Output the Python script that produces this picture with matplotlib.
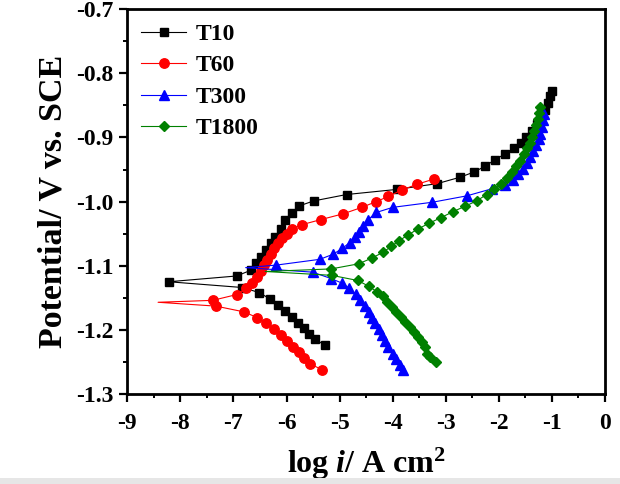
import matplotlib
matplotlib.use("Agg")
import matplotlib.pyplot as plt
from matplotlib.patches import Rectangle

plt.rcParams["font.family"] = ["Liberation Serif", "DejaVu Serif"]
plt.rcParams["font.weight"] = "bold"
plt.rcParams["axes.unicode_minus"] = False
plt.rcParams["mathtext.fontset"] = "custom"
plt.rcParams["mathtext.rm"] = "Liberation Serif:bold"
plt.rcParams["mathtext.it"] = "Liberation Serif:italic:bold"

# each curve: cathodic branch (outer end -> Ecorr), Ecorr tip, anodic branch (Ecorr -> outer end)
t10_cat_x = [-5.27, -5.46, -5.57, -5.67, -5.78, -5.90, -6.02, -6.16, -6.31, -6.51, -6.83]
t10_cat_E = [-1.224, -1.215, -1.207, -1.197, -1.189, -1.180, -1.170, -1.161, -1.152, -1.142, -1.134]
t10_tip = (-8.22, -1.125)
t10_an_x = [-6.94, -6.67, -6.58, -6.49, -6.39, -6.30, -6.21, -6.11, -6.02, -5.90, -5.77, -5.49,
            -4.87, -3.92, -3.16, -2.73, -2.47, -2.26, -2.08, -1.89, -1.72, -1.59, -1.49, -1.38,
            -1.29, -1.21, -1.13, -1.07, -1.04, -0.99]
t10_an_E = [-1.116, -1.107, -1.096, -1.086, -1.076, -1.065, -1.055, -1.042, -1.029, -1.018, -1.007, -0.999,
            -0.989, -0.981, -0.972, -0.962, -0.954, -0.945, -0.935, -0.926, -0.917, -0.908, -0.899, -0.890,
            -0.879, -0.869, -0.857, -0.846, -0.835, -0.827]

t60_cat_x = [-5.34, -5.55, -5.67, -5.77, -5.88, -5.99, -6.11, -6.24, -6.38, -6.55, -6.80, -7.33]
t60_cat_E = [-1.262, -1.253, -1.244, -1.235, -1.226, -1.217, -1.208, -1.199, -1.190, -1.181, -1.172, -1.163]
t60_tip = (-8.42, -1.157)
t60_an_x = [-7.39, -6.94, -6.76, -6.65, -6.55, -6.49, -6.43, -6.36, -6.30, -6.24, -6.16, -6.08,
            -5.99, -5.90, -5.71, -5.35, -4.93, -4.58, -4.31, -4.08, -3.83, -3.54, -3.23]
t60_an_E = [-1.154, -1.145, -1.135, -1.127, -1.117, -1.108, -1.099, -1.091, -1.082, -1.073, -1.065, -1.057,
            -1.050, -1.043, -1.036, -1.028, -1.019, -1.009, -1.000, -0.992, -0.982, -0.973, -0.965]

t300_cat_x = [-3.81, -3.87, -3.93, -4.00, -4.08, -4.14, -4.20, -4.26, -4.33, -4.39, -4.45, -4.52,
              -4.61, -4.70, -4.82, -4.96, -5.16, -5.51]
t300_cat_E = [-1.262, -1.255, -1.246, -1.237, -1.226, -1.217, -1.208, -1.199, -1.190, -1.181, -1.172, -1.163,
              -1.154, -1.144, -1.135, -1.127, -1.120, -1.110]
t300_tip = (-6.77, -1.103)
t300_an_x = [-6.19, -5.37, -5.12, -4.95, -4.81, -4.71, -4.64, -4.56, -4.46, -4.31, -4.00, -3.25,
             -2.60, -2.13, -1.88, -1.73, -1.63, -1.55, -1.47, -1.41, -1.35, -1.30, -1.25, -1.22,
             -1.19, -1.16, -1.15]
t300_an_E = [-1.099, -1.090, -1.082, -1.073, -1.064, -1.056, -1.047, -1.038, -1.028, -1.017, -1.009, -1.001,
             -0.991, -0.980, -0.974, -0.966, -0.957, -0.949, -0.940, -0.930, -0.921, -0.912, -0.903, -0.894,
             -0.884, -0.873, -0.864]

t1800_cat_x = [-3.19, -3.29, -3.35, -3.40, -3.45, -3.53, -3.60, -3.68, -3.77, -3.85, -3.93, -4.01,
               -4.10, -4.18, -4.29, -4.45, -4.66, -5.15]
t1800_cat_E = [-1.250, -1.243, -1.237, -1.227, -1.219, -1.211, -1.203, -1.195, -1.187, -1.180, -1.172, -1.164,
               -1.156, -1.148, -1.141, -1.132, -1.123, -1.115]
t1800_tip = (-6.40, -1.109)
t1800_an_x = [-5.16, -4.64, -4.39, -4.18, -4.03, -3.88, -3.71, -3.53, -3.32, -3.09, -2.87, -2.63,
              -2.42, -2.23, -2.09, -1.96, -1.85, -1.75, -1.67, -1.60, -1.53, -1.47, -1.42, -1.38,
              -1.34, -1.30, -1.27, -1.24, -1.22]
t1800_an_E = [-1.105, -1.097, -1.088, -1.079, -1.070, -1.061, -1.052, -1.043, -1.034, -1.025, -1.016, -1.007,
              -0.999, -0.989, -0.980, -0.972, -0.963, -0.954, -0.945, -0.936, -0.926, -0.917, -0.908, -0.899,
              -0.890, -0.881, -0.872, -0.862, -0.853]

series = [
    ("T10", t10_cat_x, t10_cat_E, t10_tip, t10_an_x, t10_an_E, True, "black", "s", 6.3),
    ("T60", t60_cat_x, t60_cat_E, t60_tip, t60_an_x, t60_an_E, False, "#ff0000", "o", 6.8),
    ("T300", t300_cat_x, t300_cat_E, t300_tip, t300_an_x, t300_an_E, False, "#0000ff", "^", 7),
    ("T1800", t1800_cat_x, t1800_cat_E, t1800_tip, t1800_an_x, t1800_an_E, False, "#008000", "D", 5.5),
]

fig = plt.figure(figsize=(6.2, 4.84), dpi=100)
ax = fig.add_axes([0.2053, 0.186, 0.7705, 0.795])

for name, cx, cE, tip, axx, aE, tipMarked, color, marker, ms in series:
    xs = list(cx) + [tip[0]] + list(axx)
    Es = list(cE) + [tip[1]] + list(aE)
    tipIndex = len(cx)
    if tipMarked:
        every = list(range(len(xs)))
    else:
        every = [i for i in range(len(xs)) if i != tipIndex]
    ax.plot(xs, Es, color=color, linewidth=0.8, marker=marker, markersize=ms,
            markeredgecolor=color, markerfacecolor=color, markevery=every, label=name)

ax.set_xlim(-9, 0)
ax.set_ylim(-1.3, -0.7)
ax.set_xticks(range(-9, 1))
ax.set_xticks([x + 0.5 for x in range(-9, 0)], minor=True)
ax.set_yticks([-1.3, -1.2, -1.1, -1.0, -0.9, -0.8, -0.7])
ax.set_yticks([-1.25, -1.15, -1.05, -0.95, -0.85, -0.75], minor=True)
ax.set_yticklabels(["-1.3", "-1.2", "-1.1", "-1.0", "-0.9", "-0.8", "-0.7"])
ax.set_xticklabels([str(x) for x in range(-9, 1)])

for side in ax.spines.values():
    side.set_linewidth(2.0)
ax.tick_params(which="major", direction="out", length=6, width=1.6, labelsize=17,
               top=False, right=False)
ax.tick_params(which="minor", direction="out", length=3, width=1.4, top=False, right=False)
ax.tick_params(axis="x", which="major", pad=8)
ax.tick_params(axis="y", which="major", pad=4)
for lab in ax.get_xticklabels() + ax.get_yticklabels():
    lab.set_fontweight("bold")

ax.set_xlabel(r"log $\mathit{i}$/ A cm$^2$", fontsize=23, fontweight="bold", labelpad=8)
ax.set_ylabel("Potential/ V vs. SCE", fontsize=24.5, fontweight="bold", labelpad=5)

leg = ax.legend(loc="upper left", frameon=False, prop={"size": 17, "weight": "bold"},
                handlelength=1.9, handletextpad=0.4, labelspacing=0.42,
                borderaxespad=0.1, borderpad=0.5)

fig.patches.append(Rectangle((0, 0), 1, 6 / 484, transform=fig.transFigure,
                             facecolor="#e6e6e6", edgecolor="none"))

fig.savefig("out.png", dpi=100)
